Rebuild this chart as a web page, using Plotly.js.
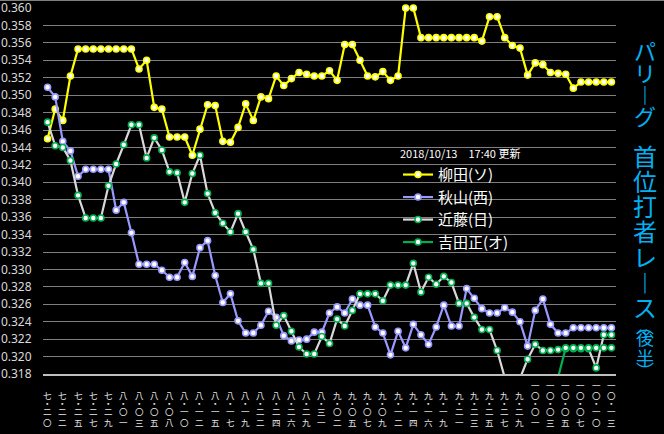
<!DOCTYPE html>
<html><head><meta charset="utf-8">
<script src="https://cdn.plot.ly/plotly-3.0.1.min.js"></script>
<style>html,body{margin:0;padding:0;background:#000;}#chart{width:664px;height:434px;}</style>
</head><body><div id="chart"></div>
<script>
// ---- data ----
const categories = ["7/20","7/21","7/22","7/24","7/25","7/26","7/27","7/28","7/29","7/31",
"8/1","8/2","8/3","8/4","8/5","8/7","8/8","8/9","8/10","8/11","8/12","8/14","8/15","8/16","8/17","8/18","8/19","8/21","8/22","8/23","8/24","8/25","8/26","8/28","8/29","8/30","8/31",
"9/1","9/2","9/4","9/5","9/6","9/7","9/8","9/9","9/11","9/12","9/13","9/14","9/15","9/16","9/18","9/19","9/20","9/21","9/22","9/23","9/24","9/25","9/26","9/27","9/28","9/29","9/30",
"10/1","10/2","10/3","10/4","10/5","10/6","10/7","10/9","10/10","10/12","10/13"];

const tickLabels = ["七・二〇","七・二二","七・二五","七・二七","七・二九","八・〇一","八・〇三","八・〇五","八・〇八","八・一〇",
"八・一二","八・一五","八・一七","八・一九","八・二二","八・二四","八・二六","八・二九","八・三一","九・〇二",
"九・〇五","九・〇七","九・〇九","九・一二","九・一四","九・一六","九・一九","九・二一","九・二三","九・二五",
"九・二七","九・二九","一〇・〇一","一〇・〇三","一〇・〇五","一〇・〇七","一〇・一〇","一〇・一三"];

const yTicks = [0.318,0.320,0.322,0.324,0.326,0.328,0.330,0.332,0.334,0.336,0.338,
0.340,0.342,0.344,0.346,0.348,0.350,0.352,0.354,0.356,0.358,0.360];

const seriesNames = ["柳田(ソ)","秋山(西)","近藤(日)","吉田正(オ)"];

const yanagita = [0.3450,0.3484,0.3471,0.3522,0.3553,0.3553,0.3553,0.3553,0.3553,0.3553,
0.3553,0.3553,0.3530,0.3540,0.3486,0.3484,0.3452,0.3452,0.3452,0.3431,
0.3461,0.3489,0.3488,0.3447,0.3446,0.3463,0.3490,0.3471,0.3498,0.3496,
0.3522,0.3511,0.3519,0.3526,0.3524,0.3522,0.3522,0.3528,0.3517,0.3558,
0.3558,0.3540,0.3522,0.3521,0.3527,0.3517,0.3522,0.3600,0.3600,0.3566,
0.3566,0.3566,0.3566,0.3566,0.3566,0.3566,0.3566,0.3562,0.3590,0.3590,
0.3566,0.3557,0.3554,0.3523,0.3537,0.3535,0.3526,0.3525,0.3524,0.3508,
0.3515,0.3515,0.3515,0.3515,0.3515];

const akiyama = [0.3509,0.3498,0.3447,0.3436,0.3407,0.3415,0.3415,0.3415,0.3415,0.3368,
0.3377,0.3342,0.3306,0.3306,0.3306,0.3299,0.3291,0.3291,0.3308,0.3292,
0.3325,0.3333,0.3293,0.3262,0.3272,0.3241,0.3227,0.3227,0.3236,0.3252,
0.3245,0.3224,0.3218,0.3219,0.3220,0.3228,0.3228,0.3250,0.3257,0.3250,
0.3266,0.3259,0.3259,0.3234,0.3227,0.3202,0.3229,0.3210,0.3237,0.3225,
0.3214,0.3234,0.3259,0.3235,0.3235,0.3278,0.3267,0.3255,0.3250,0.3250,
0.3256,0.3251,0.3240,0.3212,0.3253,0.3266,0.3237,0.3227,0.3227,0.3233,
0.3233,0.3233,0.3233,0.3233,0.3233];

const kondo = [0.3469,0.3442,0.3440,0.3425,0.3385,0.3359,0.3359,0.3359,0.3396,0.3421,
0.3443,0.3466,0.3466,0.3428,0.3451,0.3437,0.3412,0.3411,0.3377,0.3410,
0.3431,0.3387,0.3365,0.3353,0.3343,0.3364,0.3343,0.3323,0.3284,0.3284,
0.3236,0.3247,0.3229,0.3211,0.3203,0.3203,0.3223,0.3215,0.3243,0.3235,
0.3253,0.3272,0.3272,0.3272,0.3264,0.3282,0.3282,0.3282,0.3307,0.3274,
0.3291,0.3283,0.3292,0.3285,0.3261,0.3261,0.3245,0.3231,0.3231,0.3207,
0.3176,0.3165,0.3175,0.3197,0.3214,0.3207,0.3207,0.3208,0.3209,0.3209,
0.3209,0.3209,0.3187,0.3225,0.3225];

const yoshida = [null,null,null,null,null,null,null,null,null,null,
null,null,null,null,null,null,null,null,null,null,
null,null,null,null,null,null,null,null,null,null,
null,null,null,null,null,null,null,null,null,null,
null,null,null,null,null,null,null,null,null,null,
null,null,null,null,null,null,null,null,null,null,
null,null,null,null,null,null,null,0.3176,0.3210,0.3210,
0.3210,0.3210,0.3210,0.3210,0.3210];

const updateNote = "2018/10/13\u300017:40 更新";
const titleLeague = "パリーグ";
const titleMain = "首位打者レース";
const titleNote = "（後半）";

// ---- styling / layout ----
const W = 664, H = 434;
const M = {l:43, r:48, t:8, b:60};
const PW = W - M.l - M.r, PH = H - M.t - M.b;
const py = px => (H - M.b - px) / PH;   // pixel y -> paper y
const pxX = px => (px - M.l) / PW;      // pixel x -> paper x

const cjk = '"Noto Sans CJK JP", "Noto Sans", sans-serif';
const lineColors = ['#ffff00','#9999ff','#d9d9d9','#00b050'];
const markColors = ['#ffff00','#9999ff','#00b050','#00b050'];
const allSeries = [yanagita, akiyama, kondo, yoshida];

const traces = allSeries.map((ys, k) => ({
  type:'scatter', mode:'lines+markers', name: seriesNames[k],
  x: categories, y: ys,
  line:{color: lineColors[k], width:2.2},
  marker:{size:6, color:'#ffffff', line:{color: markColors[k], width:1.6}},
  cliponaxis: k === 0 ? false : true,
  connectgaps:false
}));

const annotations = [];
// vertical x-axis labels (one character per line, bottom aligned)
tickLabels.forEach((lab, j) => {
  const idx = 2 * j;
  const chars = Array.from(lab);
  let y = 422;
  const ys = new Array(chars.length);
  for (let c = chars.length - 1; c >= 0; c--) {
    if (c < chars.length - 1) {
      if (chars[c] === '・') y -= 8.5;
      else if (chars[c + 1] === '・') y -= 7.5;
      else y -= 10.7;
    }
    ys[c] = y;
  }
  chars.forEach((ch, c) => annotations.push({
    xref:'x', yref:'paper', x: idx, y: py(ys[c]), text: ch, showarrow:false,
    xanchor:'center', yanchor:'middle',
    font:{family: cjk, size:8.5, color:'#e8e8e8'}
  }));
});

// vertical title on the right
const vmap = {'ー':'︱','（':'︵','）':'︶'};
function vertical(str, startY, pitches, size) {
  let y = startY;
  Array.from(str).forEach((ch, i) => {
    const g = vmap[ch] || ch;
    annotations.push({
      xref:'paper', yref:'paper', x: pxX(645), y: py(y), text: g, showarrow:false,
      xanchor:'center', yanchor:'middle',
      font:{family: cjk, size:size, color:'#00b0f0'}
    });
    y += Array.isArray(pitches) ? (pitches[i] || 0) : pitches;
  });
}
vertical(titleLeague, 50, 21.5, 22);
vertical(titleMain, 155, 25.3, 24);
vertical(titleNote, 325, [12, 20, 13], 18);

const layout = {
  width: W, height: H,
  paper_bgcolor:'#000000', plot_bgcolor:'#000000',
  margin: M,
  showlegend:true,
  legend:{
    x: pxX(398), y: py(144), xanchor:'left', yanchor:'top',
    bgcolor:'rgba(0,0,0,0)', borderwidth:0,
    font:{family: cjk, size:15, color:'#ffffff'},
    title:{text: updateNote, side:'top', font:{family: cjk, size:11, color:'#ffffff'}},
    tracegroupgap:0
  },
  xaxis:{
    type:'category', range:[-0.6, 74.6], showgrid:false, zeroline:false,
    showticklabels:false, ticks:'', showline:true, linecolor:'#bfbfbf', linewidth:1.5,
    fixedrange:true
  },
  yaxis:{
    range:[0.318, 0.360], tickmode:'array', tickvals: yTicks,
    ticktext: yTicks.map(v => v.toFixed(3)), ticklabeloverflow:'allow',
    showgrid:true, gridcolor:'#7f7f7f', gridwidth:1, zeroline:false, showline:false,
    ticks:'outside', ticklen:8, tickcolor:'rgba(0,0,0,0)',
    tickfont:{family:'"Noto Sans", sans-serif', size:12, color:'#d9d9d9'},
    fixedrange:true
  },
  annotations: annotations,
  shapes:[{type:'line', xref:'paper', yref:'paper', x0:-M.l/PW, x1:1+M.r/PW, y0:py(0.5), y1:py(0.5),
    line:{color:'#7f7f7f', width:1}}]
};

Plotly.newPlot('chart', traces, layout, {staticPlot:true, displayModeBar:false});
</script>
</body></html>
